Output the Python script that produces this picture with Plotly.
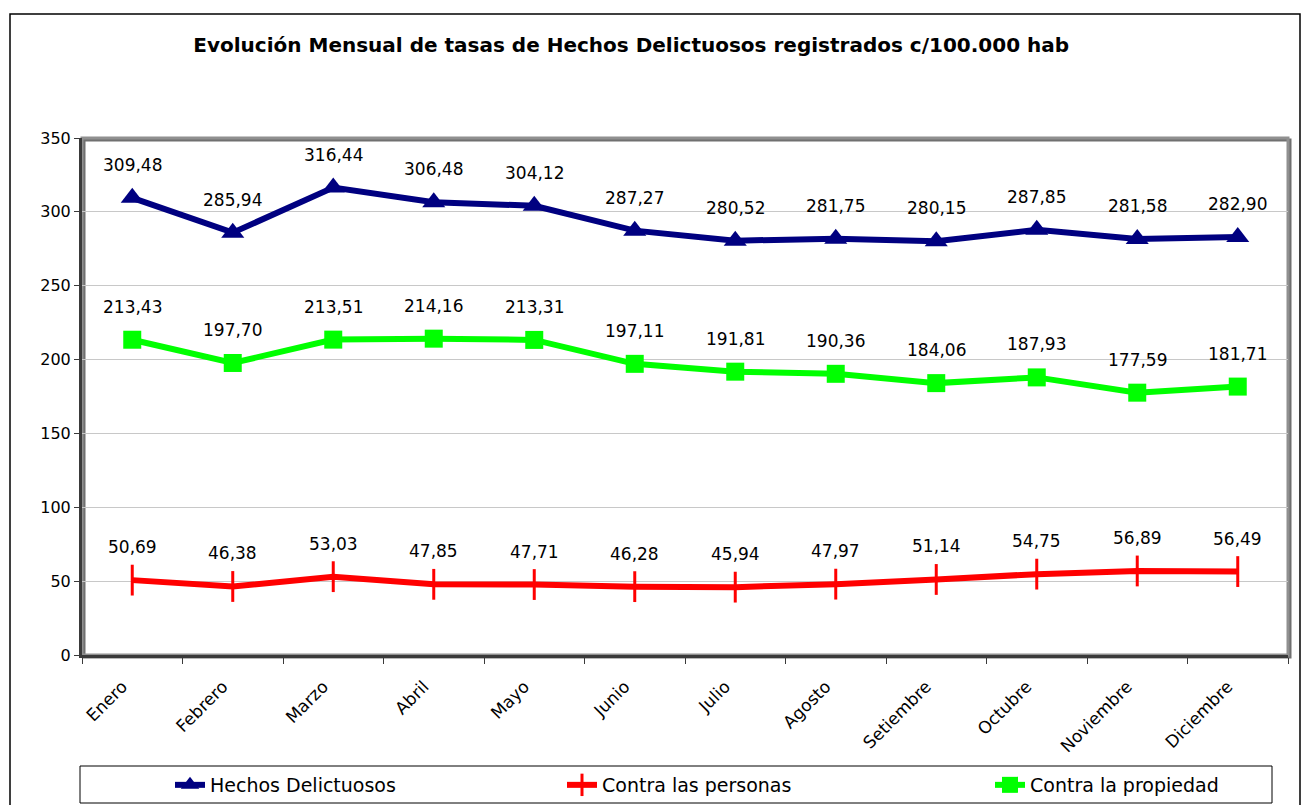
import plotly.graph_objects as go

months = ["Enero", "Febrero", "Marzo", "Abril", "Mayo", "Junio", "Julio",
          "Agosto", "Setiembre", "Octubre", "Noviembre", "Diciembre"]
hechos = [309.48, 285.94, 316.44, 306.48, 304.12, 287.27, 280.52, 281.75, 280.15, 287.85, 281.58, 282.90]
personas = [50.69, 46.38, 53.03, 47.85, 47.71, 46.28, 45.94, 47.97, 51.14, 54.75, 56.89, 56.49]
propiedad = [213.43, 197.70, 213.51, 214.16, 213.31, 197.11, 191.81, 190.36, 184.06, 187.93, 177.59, 181.71]

W, H = 1308, 805
L, R, T, B = 82, 20, 138, 150
pw, ph = W - L - R, H - T - B


def px(x):
    return (x - L) / pw


def py(y):
    return (H - B - y) / ph


FONT = "DejaVu Sans"
AXIS = "#3A3A3A"

fig = go.Figure()
fig.add_trace(go.Scatter(
    x=months, y=hechos, name="Hechos Delictuosos", mode="lines+markers",
    line=dict(color="#000080", width=6), legend="legend", showlegend=True,
    marker=dict(symbol="triangle-up", size=20, color="#000080")))
fig.add_trace(go.Scatter(
    x=months, y=personas, name="Contra las personas", mode="lines+markers",
    line=dict(color="#FF0000", width=6), legend="legend2", showlegend=True,
    marker=dict(symbol="line-ns", size=22, color="#FF0000",
                line=dict(color="#FF0000", width=3))))
fig.add_trace(go.Scatter(
    x=months, y=propiedad, name="Contra la propiedad", mode="lines+markers",
    line=dict(color="#00FF00", width=6), legend="legend3", showlegend=True,
    marker=dict(symbol="square", size=18, color="#00FF00")))


def fmt(v):
    return f"{v:.2f}".replace(".", ",")


annotations = []
for series in (hechos, personas, propiedad):
    for m, v in zip(months, series):
        annotations.append(dict(x=m, y=v, xref="x", yref="y", text=fmt(v),
                                showarrow=False, yshift=33,
                                font=dict(family=FONT, size=17, color="#000000")))

shapes = [
    # outer chart border
    dict(type="rect", xref="paper", yref="paper", x0=px(10), x1=px(1300),
         y0=py(812), y1=py(14), line=dict(color="#000000", width=1.5), layer="below"),
    # plot area border (shadow + frame)
    dict(type="rect", xref="paper", yref="paper", x0=px(84), x1=px(1290),
         y0=py(657), y1=py(140), line=dict(color="#707070", width=3), layer="below"),
    dict(type="rect", xref="paper", yref="paper", x0=0, x1=1, y0=0, y1=1,
         line=dict(color="#909090", width=3), layer="below"),
    # legend box
    dict(type="rect", xref="paper", yref="paper", x0=px(80), x1=px(1272),
         y0=py(803), y1=py(766), line=dict(color="#000000", width=1)),
]

leg_common = dict(orientation="h", xref="container", yref="container",
                  yanchor="middle", y=1 - 785 / H, xanchor="left",
                  font=dict(family=FONT, size=19), bgcolor="rgba(0,0,0,0)",
                  borderwidth=0, itemsizing="trace")

fig.update_layout(
    width=W, height=H,
    margin=dict(l=L, r=R, t=T, b=B, autoexpand=False),
    paper_bgcolor="white", plot_bgcolor="white",
    showlegend=True,
    font=dict(family=FONT, size=16, color="#000000"),
    title=dict(text="<b>Evolución Mensual de tasas de Hechos Delictuosos registrados c/100.000 hab</b>",
               x=px(664), xanchor="center", y=1 - 45 / H, yanchor="middle",
               font=dict(family=FONT, size=20, color="#000000")),
    xaxis=dict(type="category", range=[-0.5, 11.5], tickson="boundaries",
               ticks="outside", ticklen=6, tickcolor=AXIS, tickwidth=1,
               showline=True, linecolor=AXIS, linewidth=3,
               showgrid=False, tickangle=-45, automargin=False,
               ticklabelstandoff=12, ticklabelshift=-10,
               tickfont=dict(family=FONT, size=17)),
    yaxis=dict(range=[0, 350], dtick=50, ticks="outside", ticklen=5,
               tickcolor=AXIS, showline=True, linecolor=AXIS, linewidth=3,
               showgrid=True, gridcolor="#C8C8C8", gridwidth=1, zeroline=False,
               automargin=False, tickfont=dict(family=FONT, size=16)),
    legend=dict(leg_common, x=170 / W),
    legend2=dict(leg_common, x=562 / W),
    legend3=dict(leg_common, x=990 / W),
    annotations=annotations,
    shapes=shapes,
)

fig.write_html("out.html", config={"displayModeBar": False},
               post_script="document.body.style.margin='0';")
